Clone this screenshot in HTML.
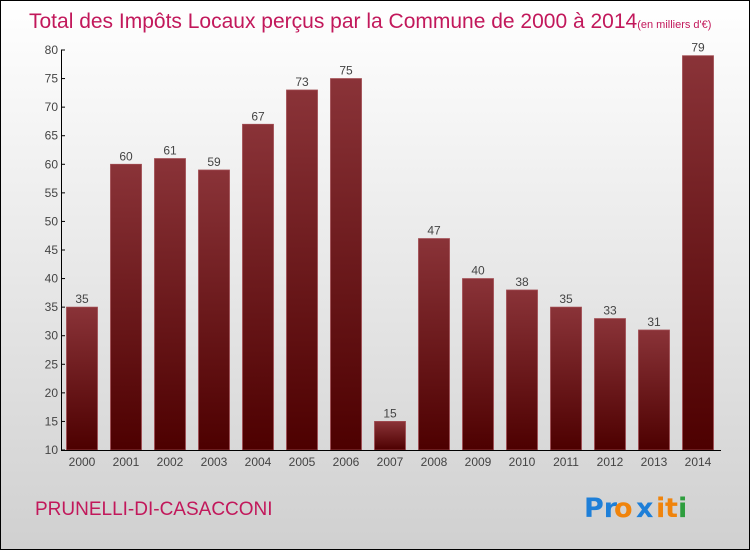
<!DOCTYPE html>
<html><head><meta charset="utf-8"><style>
html,body{margin:0;padding:0}
body{width:750px;height:550px;overflow:hidden;font-family:"Liberation Sans",sans-serif}
#wrap{position:relative;width:748px;height:548px;border:1px solid #000;background:linear-gradient(#ffffff,#d0d0d0)}
</style></head><body>
<div id="wrap">
<svg id="chart" width="748" height="548">
<defs><linearGradient id="bg" x1="0" y1="0" x2="0" y2="1"><stop offset="0" stop-color="#8a3338"/><stop offset="1" stop-color="#4d0000"/></linearGradient></defs>
<text x="28" y="27" font-size="21" fill="#c2185b">Total des Impôts Locaux perçus par la Commune de 2000 à 2014<tspan font-size="11">(en milliers d'€)</tspan></text>
<text x="34" y="514" font-size="19" fill="#c2185b">PRUNELLI-DI-CASACCONI</text>
<g font-size="27" font-family="DejaVu Sans, sans-serif" font-weight="bold">
<text x="583" y="516" fill="#1e7fd8">Pr</text><text x="613" y="516" fill="#f0840c">o</text><text x="635" y="516" fill="#1e7fd8">x</text><text x="655" y="516" fill="#f0840c">i</text><text x="664" y="516" fill="#f0840c">t</text><text x="677" y="516" fill="#2e9e3e">i</text>
</g>
<g id="plot"></g>
</svg>
</div>
<script>
const categories=["2000","2001","2002","2003","2004","2005","2006","2007","2008","2009","2010","2011","2012","2013","2014"];
const values=[35,60,61,59,67,73,75,15,47,40,38,35,33,31,79];
const yTicks=[10,15,20,25,30,35,40,45,50,55,60,65,70,75,80];
const NS="http://www.w3.org/2000/svg";
const g=document.getElementById('plot');
const yMin=10,yMax=80,plotTop=49,plotBot=449,x0=81,step=44,bw=31;
const y=v=>plotBot-(v-yMin)/(yMax-yMin)*(plotBot-plotTop);
const x=i=>x0+i*step;
function mk(t,a){const e=document.createElementNS(NS,t);for(const k in a)e.setAttribute(k,a[k]);g.appendChild(e);return e;}
values.forEach((v,i)=>{
 const r=mk('rect',{x:x(i)-bw/2,y:y(v),width:bw,height:plotBot-y(v),fill:'url(#bg)',stroke:'#a04a50','stroke-width':0.8});
 
 
 const t=mk('text',{x:x(i),y:y(v)-4,'font-size':12,fill:'#444','text-anchor':'middle'});t.textContent=v;
 
 
 const c=mk('text',{x:x(i),y:plotBot+16,'font-size':12,fill:'#444','text-anchor':'middle'});c.textContent=categories[i];
 
 
});
const ya=mk('line',{x1:60.5,y1:plotTop,x2:60.5,y2:plotBot,stroke:'#000','stroke-width':1});


const xa=mk('line',{x1:60,y1:plotBot+0.5,x2:720,y2:plotBot+0.5,stroke:'#000','stroke-width':1});


yTicks.forEach(v=>{
 mk('line',{x1:60,y1:y(v),x2:64,y2:y(v),stroke:'#000'});
 const t=mk('text',{x:57,y:y(v)+4,'font-size':12,fill:'#444','text-anchor':'end'});t.textContent=v;
 
 
});
</script>
</body></html>
